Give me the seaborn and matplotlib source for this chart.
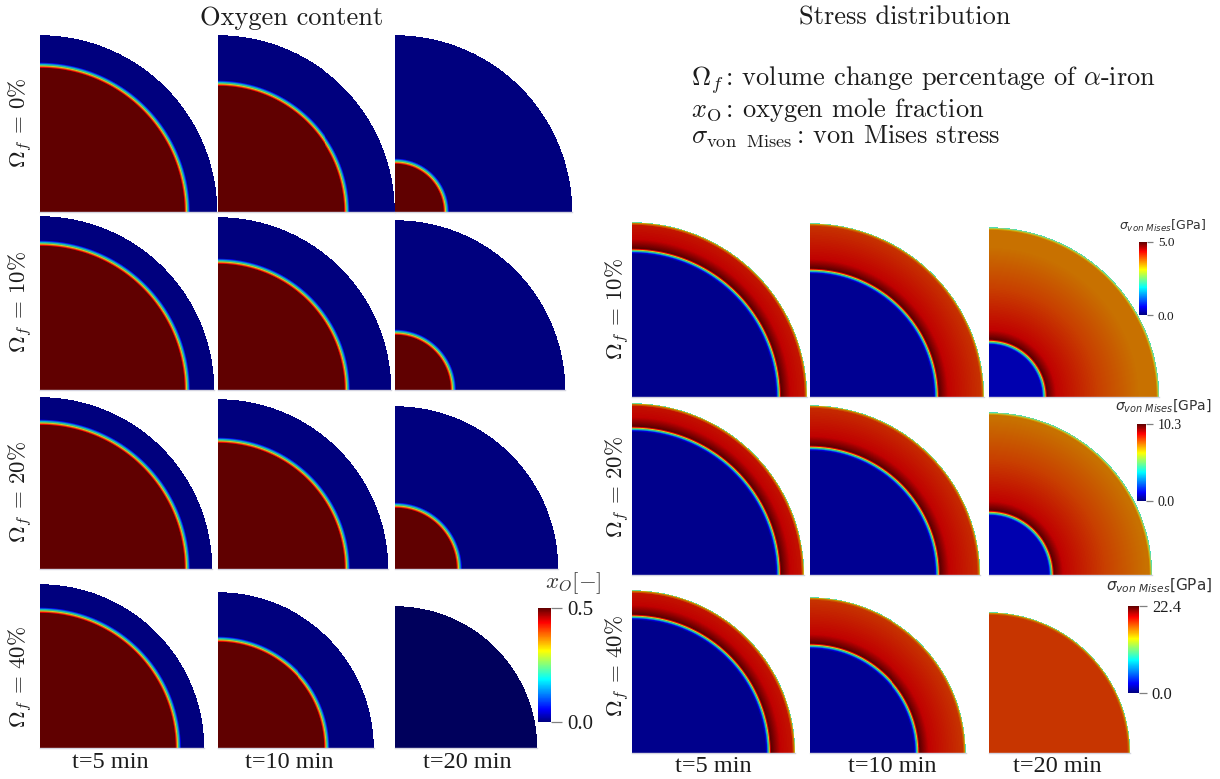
# visualization packages
import matplotlib
matplotlib.use("Agg")
import matplotlib.pyplot as plt
from matplotlib.cm import ScalarMappable
from matplotlib.colors import LinearSegmentedColormap, Normalize
import seaborn as sns
import numpy as np

W, H = 1220, 779

# values (radii in image pixels, 0 = no core left)
omega_oxygen = ["0", "10", "20", "40"]
oxygen_outer = [[177, 177, 177], [174, 173, 170], [172, 170, 163], [164, 156, 142]]
oxygen_core = [[147, 129, 51], [147, 129, 58], [147, 129, 64], [138, 109, 0]]

omega_stress = ["10", "20", "40"]
stress_outer = [[175, 174, 170], [172, 170, 163], [163, 156, 141]]
stress_core = [[146, 126, 55], [146, 127, 62], [136, 107, 0]]
stress_max = [5.0, 10.3, 22.4]
oxygen_max = 0.5

time_labels = ["t=5 min", "t=10 min", "t=20 min"]

# layout in image pixels
oxy_col_x = [40, 218, 395]
oxy_row_bottom = [212, 390, 569, 748]
oxy_label_y = [123, 302, 492, 677]
oxy_time_x = [110, 289, 467]
stress_col_x = [632, 810, 989]
stress_row_bottom = [397, 575, 753]
stress_label_y = [309, 487, 666]
stress_time_x = [713, 892, 1057]

# colormaps: oxygen is the rainbow with a muted middle, the stress panels walk a longer colour path
oxygen_cmap = LinearSegmentedColormap.from_list("oxygen", [
    (0.0, "#00005c"), (0.02, "#00007f"), (0.11, "#0000e0"), (0.375, "#10b8c8"),
    (0.5, "#40c080"), (0.625, "#d8c820"), (0.875, "#e80000"), (1.0, "#600000")])
stress_cmap = LinearSegmentedColormap.from_list("stress", [
    (0.0, "#00008c"), (0.06, "#0000b8"), (0.12, "#0000e0"), (0.22, "#10b8c8"),
    (0.28, "#50c070"), (0.33, "#d8c820"), (0.40, "#e80000"), (0.48, "#5a0000"),
    (0.60, "#c00000"), (0.70, "#c84000"), (0.85, "#c87000"), (0.90, "#d0a000"),
    (0.95, "#a0d060"), (1.0, "#40e0c0")])
bar_cmap = LinearSegmentedColormap.from_list("bar", [
    (0.0, "#00007f"), (0.11, "#0000ff"), (0.375, "#00ffff"), (0.625, "#ffff00"),
    (0.875, "#ff0000"), (1.0, "#600000")])

sns.set_theme(style="white")
plt.rcParams["mathtext.fontset"] = "cm"
plt.rcParams["axes.formatter.use_mathtext"] = True
plt.rcParams["font.family"] = "cmr10"

TEXT = "#1c1c1c"
SERIF = "Liberation Serif"

fig = plt.figure(figsize=(W / 100, H / 100), dpi=100, facecolor="white")


def px_text(x, y, s, **kw):
    kw.setdefault("color", TEXT)
    return fig.text(x / W, 1 - y / H, s, **kw)


def radial_grid(outer):
    n = int(outer * 2)
    centres = (np.arange(n) + 0.5) / n * outer
    xx, yy = np.meshgrid(centres, centres[::-1])
    return np.sqrt(xx ** 2 + yy ** 2)


def draw_panel(x0, bottom, outer, field, r, cmap):
    ax = fig.add_axes([x0 / W, 1 - bottom / H, outer / W, outer / H])
    sns.heatmap(field, mask=r > outer, cmap=cmap, vmin=0, vmax=1, cbar=False,
                xticklabels=False, yticklabels=False, ax=ax)
    ax.spines["bottom"].set_visible(True)
    ax.spines["bottom"].set_color("#d4d4e0")
    ax.spines["bottom"].set_linewidth(1)
    return ax


def oxygen_field(outer, core):
    r = radial_grid(outer)
    if core == 0:
        return np.zeros_like(r), r
    return np.interp(r - core, [-3, 3], [1.0, 0.02]), r


def stress_field(outer, core, col):
    r = radial_grid(outer)
    core_stage = [0.0, 0.01, 0.05][col]
    if core == 0:
        inner = np.full_like(r, 0.68)
    else:
        inner = np.interp(r - core, [-3, 3, 12, 55, 95], [core_stage, 0.48, 0.60, 0.70, 0.85])
    rim = np.clip((r - (outer - 3)) / 3, 0, 1)
    return inner + (1 - inner) * rim, r


def add_bar(x0, x1, top, bottom, vmax, tick_right, size):
    cax = fig.add_axes([x0 / W, 1 - bottom / H, (x1 - x0) / W, (bottom - top) / H])
    sm = ScalarMappable(norm=Normalize(0, vmax), cmap=bar_cmap)
    cb = fig.colorbar(sm, cax=cax, ticks=[0, vmax])
    cb.outline.set_visible(False)
    cb.ax.set_yticklabels(["0.0", f"{vmax:.1f}"], fontfamily=SERIF, fontsize=size, color=TEXT)
    # tick length is in points, the layout is in pixels
    cb.ax.tick_params(right=True, length=(tick_right - x1) * 0.72, width=0.9, color="#808080", pad=3.5)


for i, row in enumerate(oxygen_outer):
    for j, outer in enumerate(row):
        field, r = oxygen_field(outer, oxygen_core[i][j])
        draw_panel(oxy_col_x[j], oxy_row_bottom[i], outer, field, r, oxygen_cmap)
    px_text(21, oxy_label_y[i], rf"$\Omega_f\, =\, {omega_oxygen[i]}\%$", rotation=90,
            ha="center", va="center", fontsize=16.5)

for i, row in enumerate(stress_outer):
    for j, outer in enumerate(row):
        field, r = stress_field(outer, stress_core[i][j], j)
        draw_panel(stress_col_x[j], stress_row_bottom[i], outer, field, r, stress_cmap)
    px_text(618, stress_label_y[i], rf"$\Omega_f\, =\, {omega_stress[i]}\%$", rotation=90,
            ha="center", va="center", fontsize=16.5)

for x, s in zip(oxy_time_x, time_labels):
    px_text(x, 763, s, ha="center", va="center", fontsize=17.5, fontfamily=SERIF)
for x, s in zip(stress_time_x, time_labels):
    px_text(x, 767, s, ha="center", va="center", fontsize=17.5, fontfamily=SERIF)

px_text(292, 18, "Oxygen content", ha="center", va="center", fontsize=19)
px_text(905, 18, "Stress distribution", ha="center", va="center", fontsize=19)

px_text(691, 80, r"$\Omega_f\,$: volume change percentage of $\alpha$-iron", va="center", fontsize=19)
px_text(691, 110, r"$x_{\mathrm{O}}\,$: oxygen mole fraction", va="center", fontsize=19)
px_text(691, 137, r"$\sigma_{\mathrm{von\ \ Mises}}\,$: von Mises stress", va="center", fontsize=19)

# colorbars
add_bar(538, 551, 608, 722, oxygen_max, 562, 15)
px_text(573, 583, r"$x_O[-]$", ha="center", va="center", fontsize=16.5, color="#333333")

bar_x0 = [1139, 1137, 1128]
bar_x1 = [1147, 1146, 1139]
bar_top = [242, 424, 606]
bar_bottom = [315, 501, 693]
bar_tick = [1153, 1153, 1147]
bar_size = [9.5, 10, 12]
title_x = [1163, 1163, 1159]
title_y = [226, 406, 586]
title_size = [9, 10, 11]
for k, vmax in enumerate(stress_max):
    add_bar(bar_x0[k], bar_x1[k], bar_top[k], bar_bottom[k], vmax, bar_tick[k], bar_size[k])
    px_text(title_x[k], title_y[k], r"$\sigma_{von\ Mises}$[GPa]", ha="center", va="center",
            fontsize=title_size[k], fontfamily="DejaVu Sans", math_fontfamily="dejavusans",
            color="#333333")

fig.savefig("out.png", dpi=100)
